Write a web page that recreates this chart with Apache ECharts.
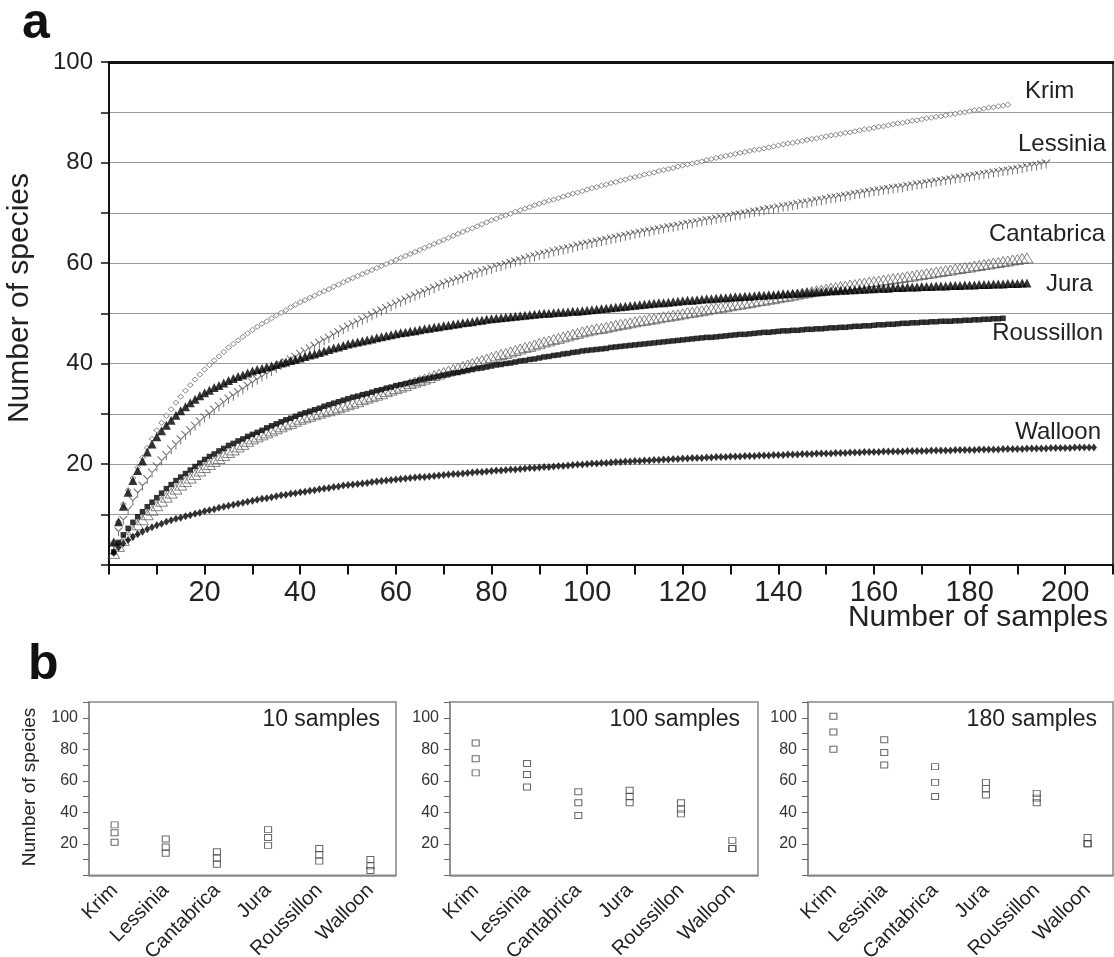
<!DOCTYPE html>
<html><head><meta charset="utf-8">
<script src="https://cdn.jsdelivr.net/npm/echarts@6/dist/echarts.min.js"></script>
<style>html,body{margin:0;padding:0;background:#fff}#c{width:1114px;height:957px}</style>
</head><body><div id="c"></div>
<script>
// ---- panel a: rarefaction curves (value at sample 1..N) ----
const krim = [4.5,8.5,12.0,14.8,17.2,19.3,21.3,23.2,25.0,26.7,
28.2,29.6,30.9,32.2,33.4,34.6,35.7,36.8,37.8,38.8,
39.7,40.6,41.4,42.3,43.2,43.9,44.6,45.3,46.0,46.7,
47.3,47.9,48.4,49.0,49.6,50.1,50.6,51.2,51.7,52.2,
52.6,53.1,53.5,54.0,54.4,54.8,55.3,55.7,56.2,56.6,
57.0,57.4,57.8,58.2,58.6,59.0,59.4,59.8,60.2,60.6,
61.0,61.4,61.8,62.2,62.6,63.0,63.4,63.8,64.2,64.6,
65.0,65.4,65.8,66.2,66.6,66.9,67.3,67.7,68.1,68.5,
68.8,69.2,69.5,69.8,70.2,70.5,70.8,71.1,71.5,71.8,
72.1,72.4,72.6,72.9,73.2,73.5,73.8,74.0,74.3,74.6,
74.9,75.1,75.4,75.6,75.9,76.1,76.4,76.6,76.9,77.1,
77.3,77.6,77.8,78.0,78.3,78.5,78.7,78.9,79.2,79.4,
79.6,79.8,80.0,80.2,80.5,80.7,80.9,81.1,81.3,81.5,
81.7,81.9,82.1,82.3,82.5,82.6,82.8,83.0,83.2,83.4,
83.6,83.8,83.9,84.1,84.3,84.5,84.7,84.8,85.0,85.2,
85.4,85.5,85.7,85.9,86.0,86.2,86.4,86.6,86.7,86.9,
87.1,87.2,87.4,87.6,87.8,87.9,88.1,88.3,88.4,88.6,
88.8,88.9,89.1,89.2,89.4,89.6,89.7,89.9,90.0,90.2,
90.4,90.5,90.7,90.9,91.0,91.2,91.3,91.5];
const lessinia = [3.5,6.5,8.8,10.8,12.6,14.2,15.6,16.9,18.2,19.4,
20.6,21.7,22.8,23.8,24.8,25.7,26.6,27.5,28.4,29.2,
29.9,30.7,31.4,32.2,32.9,33.5,34.2,34.8,35.5,36.1,
36.7,37.3,37.8,38.4,39.0,39.6,40.1,40.7,41.2,41.8,
42.3,42.9,43.4,44.0,44.5,45.0,45.6,46.1,46.7,47.2,
47.7,48.1,48.6,49.0,49.5,50.0,50.4,50.9,51.3,51.8,
52.2,52.6,53.0,53.4,53.8,54.1,54.5,54.9,55.3,55.7,
56.0,56.3,56.6,56.9,57.3,57.6,57.9,58.2,58.5,58.8,
59.1,59.3,59.6,59.9,60.2,60.4,60.7,61.0,61.2,61.5,
61.7,61.9,62.2,62.4,62.6,62.8,63.0,63.3,63.5,63.7,
63.9,64.1,64.3,64.5,64.7,64.9,65.1,65.3,65.5,65.7,
65.9,66.1,66.2,66.4,66.6,66.8,67.0,67.1,67.3,67.5,
67.7,67.8,68.0,68.2,68.4,68.5,68.7,68.9,69.0,69.2,
69.4,69.5,69.7,69.9,70.1,70.2,70.4,70.6,70.7,70.9,
71.1,71.2,71.4,71.6,71.8,71.9,72.1,72.3,72.4,72.6,
72.8,72.9,73.1,73.2,73.4,73.6,73.7,73.9,74.0,74.2,
74.3,74.5,74.6,74.8,74.9,75.0,75.2,75.3,75.5,75.6,
75.8,75.9,76.1,76.2,76.4,76.5,76.7,76.8,77.0,77.1,
77.3,77.4,77.6,77.7,77.9,78.0,78.2,78.3,78.5,78.6,
78.8,79.0,79.2,79.3,79.5,79.7];
const cantabrica = [2.2,3.6,4.8,5.9,6.9,7.9,8.9,9.9,10.8,11.7,
12.6,13.4,14.2,15.0,15.8,16.5,17.2,17.9,18.6,19.3,
19.9,20.5,21.1,21.7,22.3,22.8,23.4,23.9,24.5,25.0,
25.4,25.8,26.2,26.6,27.0,27.4,27.8,28.1,28.5,28.9,
29.2,29.5,29.8,30.1,30.4,30.6,30.9,31.2,31.5,31.8,
32.1,32.4,32.8,33.1,33.4,33.7,34.0,34.4,34.7,35.0,
35.3,35.6,36.0,36.3,36.6,36.9,37.2,37.6,37.9,38.2,
38.5,38.8,39.1,39.4,39.7,40.0,40.3,40.6,40.9,41.2,
41.5,41.8,42.0,42.3,42.6,42.9,43.2,43.4,43.7,44.0,
44.3,44.5,44.8,45.0,45.3,45.5,45.8,46.0,46.3,46.5,
46.7,46.9,47.0,47.2,47.4,47.6,47.8,47.9,48.1,48.3,
48.5,48.6,48.8,48.9,49.1,49.3,49.4,49.6,49.7,49.9,
50.1,50.2,50.4,50.5,50.7,50.9,51.0,51.2,51.3,51.5,
51.7,51.8,52.0,52.1,52.3,52.5,52.6,52.8,52.9,53.1,
53.3,53.4,53.6,53.8,54.0,54.1,54.3,54.5,54.6,54.8,
55.0,55.1,55.3,55.4,55.6,55.7,55.9,56.0,56.2,56.3,
56.4,56.6,56.7,56.9,57.0,57.1,57.3,57.4,57.6,57.7,
57.9,58.0,58.2,58.3,58.5,58.6,58.8,58.9,59.1,59.2,
59.4,59.5,59.7,59.8,60.0,60.1,60.3,60.4,60.6,60.7,60.9,61.0];
const jura = [4.5,8.5,11.6,14.4,16.7,18.7,20.6,22.4,24.0,25.4,
26.6,27.7,28.7,29.7,30.6,31.4,32.2,32.9,33.6,34.2,
34.7,35.2,35.6,36.1,36.6,37.0,37.4,37.7,38.1,38.5,
38.8,39.0,39.3,39.5,39.8,40.1,40.3,40.6,40.8,41.1,
41.4,41.7,41.9,42.2,42.5,42.8,43.1,43.3,43.6,43.9,
44.1,44.3,44.5,44.7,44.9,45.1,45.3,45.5,45.7,45.9,
46.1,46.2,46.4,46.5,46.7,46.9,47.0,47.2,47.3,47.5,
47.6,47.8,47.9,48.1,48.2,48.3,48.5,48.6,48.8,48.9,
49.0,49.1,49.2,49.3,49.4,49.5,49.6,49.7,49.8,49.9,
50.0,50.0,50.1,50.2,50.2,50.3,50.4,50.4,50.5,50.6,
50.7,50.8,50.9,51.0,51.1,51.2,51.3,51.4,51.5,51.6,
51.7,51.8,51.9,52.0,52.1,52.1,52.2,52.3,52.4,52.5,
52.6,52.6,52.7,52.8,52.9,52.9,53.0,53.1,53.1,53.2,
53.3,53.3,53.4,53.4,53.5,53.6,53.6,53.7,53.7,53.8,
53.9,53.9,54.0,54.0,54.1,54.2,54.2,54.3,54.3,54.4,
54.5,54.5,54.6,54.6,54.7,54.7,54.8,54.8,54.9,54.9,
55.0,55.0,55.0,55.1,55.1,55.1,55.2,55.2,55.2,55.3,
55.3,55.3,55.4,55.4,55.4,55.5,55.5,55.5,55.6,55.6,
55.6,55.7,55.7,55.7,55.8,55.8,55.8,55.9,55.9,55.9,56.0,56.0];
const roussillon = [2.5,4.4,5.9,7.2,8.4,9.5,10.5,11.5,12.4,13.3,
14.2,15.1,15.9,16.7,17.4,18.1,18.8,19.5,20.2,20.9,
21.5,22.0,22.6,23.1,23.7,24.1,24.6,25.0,25.5,25.9,
26.3,26.7,27.2,27.6,28.0,28.4,28.8,29.1,29.5,29.9,
30.2,30.5,30.8,31.1,31.5,31.8,32.1,32.4,32.7,33.0,
33.3,33.5,33.8,34.0,34.3,34.6,34.8,35.1,35.3,35.6,
35.8,36.0,36.2,36.4,36.7,36.9,37.1,37.3,37.5,37.7,
37.9,38.1,38.2,38.4,38.6,38.8,39.0,39.1,39.3,39.5,
39.7,39.8,40.0,40.1,40.3,40.5,40.6,40.8,40.9,41.1,
41.3,41.4,41.6,41.7,41.9,42.0,42.2,42.3,42.5,42.6,
42.7,42.8,42.9,43.0,43.2,43.3,43.4,43.5,43.6,43.7,
43.8,43.9,44.0,44.1,44.2,44.3,44.4,44.5,44.6,44.7,
44.8,44.9,45.0,45.1,45.2,45.2,45.3,45.4,45.5,45.6,
45.7,45.8,45.8,45.9,46.0,46.1,46.2,46.2,46.3,46.4,
46.5,46.5,46.6,46.6,46.7,46.8,46.8,46.9,46.9,47.0,
47.1,47.1,47.2,47.2,47.3,47.4,47.4,47.5,47.5,47.6,
47.7,47.7,47.8,47.8,47.9,48.0,48.0,48.1,48.1,48.2,
48.2,48.3,48.3,48.4,48.4,48.4,48.5,48.5,48.6,48.6,
48.7,48.7,48.8,48.8,48.9,48.9,49.0];
const walloon = [2.3,3.4,4.2,4.9,5.5,6.0,6.5,7.0,7.4,7.8,
8.1,8.5,8.8,9.1,9.3,9.6,9.8,10.1,10.3,10.6,
10.8,11.0,11.3,11.5,11.7,11.9,12.1,12.3,12.5,12.7,
12.9,13.1,13.2,13.4,13.6,13.8,13.9,14.1,14.2,14.4,
14.5,14.7,14.8,15.0,15.1,15.2,15.4,15.5,15.7,15.8,
15.9,16.0,16.1,16.2,16.4,16.5,16.6,16.7,16.8,16.9,
17.0,17.1,17.2,17.3,17.4,17.4,17.5,17.6,17.7,17.8,
17.9,18.0,18.0,18.1,18.2,18.3,18.4,18.4,18.5,18.6,
18.7,18.7,18.8,18.9,18.9,19.0,19.1,19.2,19.2,19.3,
19.4,19.4,19.5,19.6,19.6,19.7,19.8,19.9,19.9,20.0,
20.1,20.1,20.2,20.2,20.3,20.4,20.4,20.5,20.5,20.6,
20.6,20.7,20.7,20.8,20.8,20.9,20.9,21.0,21.0,21.1,
21.1,21.2,21.2,21.2,21.3,21.3,21.4,21.4,21.4,21.5,
21.5,21.5,21.6,21.6,21.6,21.7,21.7,21.7,21.8,21.8,
21.8,21.9,21.9,21.9,22.0,22.0,22.0,22.1,22.1,22.1,
22.1,22.2,22.2,22.2,22.3,22.3,22.3,22.4,22.4,22.4,
22.4,22.5,22.5,22.5,22.5,22.5,22.6,22.6,22.6,22.6,
22.6,22.7,22.7,22.7,22.7,22.7,22.8,22.8,22.8,22.8,
22.8,22.9,22.9,22.9,22.9,22.9,23.0,23.0,23.0,23.0,
23.0,23.1,23.1,23.1,23.1,23.1,23.2,23.2,23.2,23.2,
23.2,23.3,23.3,23.3,23.3,23.3];

const xLabelsA = [20,40,60,80,100,120,140,160,180,200];
const yLabelsA = [20,40,60,80,100];

// ---- panel b: [low, mid, high] per site ----
const sites = ['Krim','Lessinia','Cantabrica','Jura','Roussillon','Walloon'];
const b10  = [[21,27,32],[14,18,23],[7,11,15],[19,24,29],[9,13,17],[3,6,10]];
const b100 = [[65,74,84],[56,64,71],[38,46,53],[46,50,54],[39,42,46],[17,17,22]];
const b180 = [[80,91,101],[70,78,86],[50,59,69],[51,55,59],[46,49,52],[20,20,24]];
const yLabelsB = [20,40,60,80,100];
const panelTitles = ['10 samples','100 samples','180 samples'];

const FONT = '"Liberation Sans", Arial, Helvetica, sans-serif';
const pts = arr => arr.map((v, i) => [i + 1, v]);

const chart = echarts.init(document.getElementById('c'), null, {renderer: 'canvas'});

const gridsB = [
  {left: 89, top: 702, width: 307, height: 173.3},
  {left: 450, top: 702, width: 308, height: 173.3},
  {left: 808, top: 702, width: 305, height: 173.3}
];

const option = {
  backgroundColor: '#fff',
  animation: false,
  grid: [
    {left: 109, top: 62, width: 1004, height: 502.5, outerBoundsMode: 'none', containLabel: false},
    ...gridsB.map(g => Object.assign({show: true, borderColor: '#888', borderWidth: 1.5,
      outerBoundsMode: 'none', containLabel: false}, g))
  ],
  xAxis: [
    {type: 'value', gridIndex: 0, min: 0, max: 210, interval: 10,
     axisLine: {show: true, onZero: false, lineStyle: {color: '#111', width: 2}},
     axisTick: {show: true, inside: false, length: 10, lineStyle: {color: '#111', width: 2}},
     axisLabel: {margin: 14, fontSize: 29, color: '#222', fontFamily: FONT,
       formatter: v => xLabelsA.includes(v) ? String(v) : ''},
     splitLine: {show: false}},
    {type: 'value', gridIndex: 0, position: 'top', min: 0, max: 210,
     axisLine: {show: true, onZero: false, lineStyle: {color: '#111', width: 3}},
     axisTick: {show: false}, axisLabel: {show: false}, splitLine: {show: false}},
    ...gridsB.map((g, k) => ({type: 'category', gridIndex: k + 1, data: sites,
      axisLine: {show: true, lineStyle: {color: '#888', width: 1.5}},
      axisTick: {show: false},
      axisLabel: {rotate: 45, margin: 12, fontSize: 20, color: '#222', fontFamily: FONT, interval: 0},
      splitLine: {show: false}}))
  ],
  yAxis: [
    {type: 'value', gridIndex: 0, min: 0, max: 100, interval: 10,
     axisLine: {show: true, onZero: false, lineStyle: {color: '#111', width: 2}},
     axisTick: {show: true, length: 8, lineStyle: {color: '#111', width: 1.5}},
     axisLabel: {margin: 16, fontSize: 24, color: '#222', fontFamily: FONT,
       formatter: v => yLabelsA.includes(v) ? String(v) : ''},
     splitLine: {show: true, lineStyle: {color: '#9a9a9a', width: 1}}},
    {type: 'value', gridIndex: 0, position: 'right', min: 0, max: 100,
     axisLine: {show: true, onZero: false, lineStyle: {color: '#111', width: 1.5}},
     axisTick: {show: false}, axisLabel: {show: false}, splitLine: {show: false}},
    ...gridsB.map((g, k) => ({type: 'value', gridIndex: k + 1, min: 0, max: 110, interval: 10,
      axisLine: {show: true, onZero: false, lineStyle: {color: '#888', width: 1.5}},
      axisTick: {show: true, length: 6, lineStyle: {color: '#666', width: 1}},
      axisLabel: {margin: 11, fontSize: 16, color: '#333', fontFamily: FONT,
        formatter: v => yLabelsB.includes(v) ? String(v) : ''},
      splitLine: {show: false}}))
  ],
  series: [
    {name: 'Krim', type: 'scatter', xAxisIndex: 0, yAxisIndex: 0, data: pts(krim),
     symbol: 'diamond', symbolSize: [6, 5],
     itemStyle: {color: '#fff', borderColor: '#5e5e5e', borderWidth: 0.9}},
    {name: 'Lessinia', type: 'scatter', xAxisIndex: 0, yAxisIndex: 0, data: pts(lessinia),
     symbol: 'path://M0 0L5 5L10 0M5 5L5 11', symbolSize: [8, 9],
     itemStyle: {color: 'rgba(0,0,0,0)', borderColor: '#444', borderWidth: 1}},
    {name: 'Cantabrica', type: 'scatter', xAxisIndex: 0, yAxisIndex: 0, data: pts(cantabrica),
     symbol: 'triangle', symbolSize: [12, 10],
     itemStyle: {color: 'rgba(0,0,0,0)', borderColor: '#555', borderWidth: 0.9}},
    {name: 'Roussillon', type: 'scatter', xAxisIndex: 0, yAxisIndex: 0, data: pts(roussillon),
     symbol: 'rect', symbolSize: [5.5, 5.5], itemStyle: {color: '#000'}},
    {name: 'Jura', type: 'scatter', xAxisIndex: 0, yAxisIndex: 0, data: pts(jura),
     symbol: 'triangle', symbolSize: [9, 9], itemStyle: {color: '#000'}},
    {name: 'Walloon', type: 'scatter', xAxisIndex: 0, yAxisIndex: 0, data: pts(walloon),
     symbol: 'diamond', symbolSize: [6, 8], itemStyle: {color: '#000'}},
    ...[b10, b100, b180].map((b, k) => ({
      name: panelTitles[k], type: 'scatter', xAxisIndex: k + 2, yAxisIndex: k + 2,
      data: b.flatMap((trip, i) => trip.map(v => [sites[i], v])),
      symbol: 'rect', symbolSize: [7, 6],
      itemStyle: {color: 'rgba(0,0,0,0)', borderColor: '#444', borderWidth: 1}
    }))
  ],
  graphic: [
    {type: 'text', x: 22, y: 24, style: {text: 'a', font: 'bold 50px ' + FONT, fill: '#111',
      align: 'left', verticalAlign: 'middle', textAlign: 'left', textVerticalAlign: 'middle'}},
    {type: 'text', x: 28, y: 665, style: {text: 'b', font: 'bold 50px ' + FONT, fill: '#111',
      align: 'left', verticalAlign: 'middle', textAlign: 'left', textVerticalAlign: 'middle'}},
    {type: 'text', x: 20, y: 298, rotation: Math.PI / 2, style: {text: 'Number of species',
      font: '30px ' + FONT, fill: '#222', align: 'center', verticalAlign: 'middle',
      textAlign: 'center', textVerticalAlign: 'middle'}},
    {type: 'text', x: 1108, y: 618, style: {text: 'Number of samples',
      font: '30px ' + FONT, fill: '#222', align: 'right', verticalAlign: 'middle',
      textAlign: 'right', textVerticalAlign: 'middle'}},
    {type: 'text', x: 30, y: 787, rotation: Math.PI / 2, style: {text: 'Number of species',
      font: '19px ' + FONT, fill: '#222', align: 'center', verticalAlign: 'middle',
      textAlign: 'center', textVerticalAlign: 'middle'}},
    ...[['Krim', 1025, 91, 'left'], ['Lessinia', 1106, 144, 'right'], ['Cantabrica', 1105, 234, 'right'],
        ['Jura', 1046, 284, 'left'], ['Roussillon', 1103, 333, 'right'], ['Walloon', 1101, 432, 'right']]
      .map(([t, x, y, a]) => ({type: 'text', x, y, z: 10, style: {text: t, font: '24px ' + FONT, fill: '#222',
        align: a, verticalAlign: 'middle', textAlign: a, textVerticalAlign: 'middle'}})),
    ...panelTitles.map((t, k) => ({type: 'text', x: [380, 740, 1097][k], y: 720,
      style: {text: t, font: '23px ' + FONT, fill: '#222', align: 'right', verticalAlign: 'middle',
        textAlign: 'right', textVerticalAlign: 'middle'}}))
  ]
};
chart.setOption(option);
</script></body></html>
